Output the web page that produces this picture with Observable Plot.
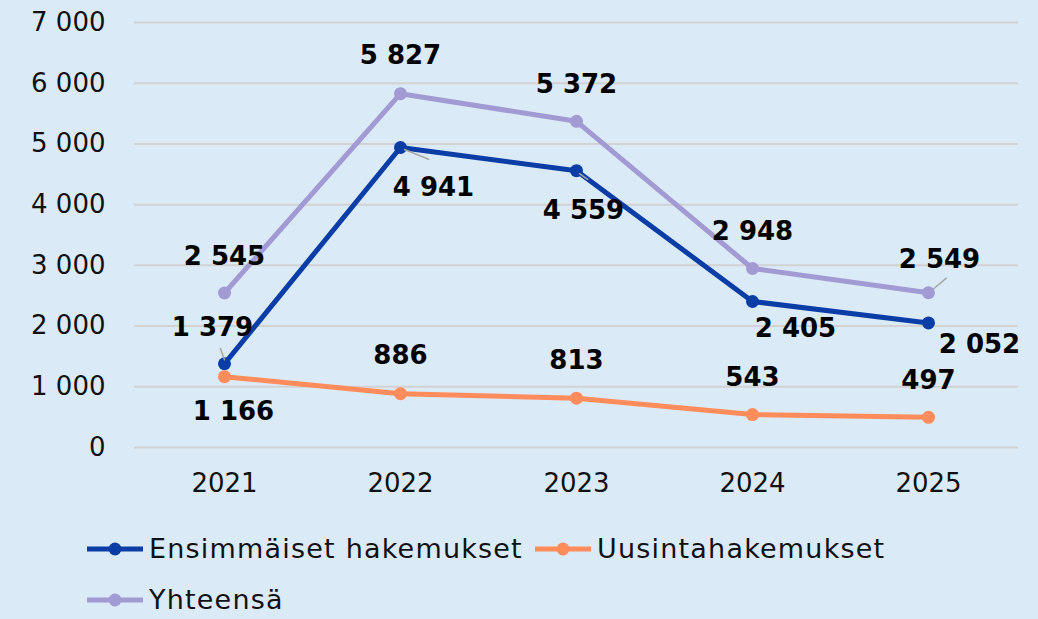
<!DOCTYPE html>
<html>
<head>
<meta charset="utf-8">
<script src="https://cdn.jsdelivr.net/npm/d3@7"></script>
<script src="https://cdn.jsdelivr.net/npm/@observablehq/plot@0.6"></script>
<style>
  html, body { margin: 0; padding: 0; background: #dbeaf7; }
  body { width: 1038px; height: 619px; overflow: hidden; font-family: "DejaVu Sans", sans-serif; }
  #chart svg { display: block; }
  .legend { position: relative; height: 109px; }
  .item { position: absolute; display: flex; align-items: center; font-size: 27px; letter-spacing: 1.2px; color: #111; white-space: nowrap; }
  .sw { width: 56px; height: 20px; margin-right: 6px; }
</style>
</head>
<body>
<div id="chart"></div>
<div class="legend" id="legend"></div>
<script>
const years = ["2021", "2022", "2023", "2024", "2025"];
const ensimmaiset = [1379, 4941, 4559, 2405, 2052];
const uusinta = [1166, 886, 813, 543, 497];
const yhteensa = [2545, 5827, 5372, 2948, 2549];
const seriesNames = ["Ensimmäiset hakemukset", "Uusintahakemukset", "Yhteensä"];
const seriesColors = ["#0b3da6", "#ff8c5a", "#a29ad3"];
const yTicks = [0, 1000, 2000, 3000, 4000, 5000, 6000, 7000];

const fmt = v => d3.format(",")(v).replace(/,/g, " ");
const seriesValues = [ensimmaiset, uusinta, yhteensa];
const data = [];
seriesNames.forEach((s, i) => years.forEach((y, j) => data.push({series: s, year: y, value: seriesValues[i][j], idx: j})));

// label offsets (pixels) per series, per year
const labelOffsets = {
  "Ensimmäiset hakemukset": [[-12, -36], [33, 40], [7, 40], [43, 27], [51, 22]],
  "Uusintahakemukset": [[9, 35], [0, -38], [0, -37], [0, -37], [0, -37]],
  "Yhteensä": [[0, -36], [0, -38], [0, -37], [0, -37], [11, -33]]
};

const labelMarks = [];
seriesNames.forEach(s => {
  labelOffsets[s].forEach(([dx, dy], j) => {
    labelMarks.push(Plot.text(data.filter(d => d.series === s && d.idx === j), {
      x: "year", y: "value", text: d => fmt(d.value), dx, dy,
      fontSize: 26, fontWeight: "bold", fill: "#000"
    }));
  });
});

const spike = {draw(ctx, l) { ctx.moveTo(0, 0); ctx.lineTo(0, -l); }};
const leader = (s, j, length, rotate, dx, dy) => Plot.vector(data.filter(d => d.series === s && d.idx === j), {
  x: "year", y: "value", length, rotate, dx, dy, anchor: "start", shape: spike, stroke: "#a6a6a6", strokeWidth: 1.5
});

const chart = Plot.plot({
  width: 1038,
  height: 510,
  marginTop: 22,
  marginBottom: 63,
  marginLeft: 134,
  marginRight: 20,
  style: {background: "#dbeaf7", fontFamily: "DejaVu Sans, sans-serif", fontSize: "26px", color: "#111"},
  x: {type: "point", domain: years, padding: 0.5, label: null},
  y: {domain: [0, 7000], label: null},
  color: {domain: seriesNames, range: seriesColors},
  marks: [
    Plot.ruleY(yTicks, {stroke: "#d2d2d2", strokeWidth: 2}),
    Plot.axisY({ticks: yTicks, tickSize: 0, tickPadding: 29, tickFormat: fmt, fontSize: 26, label: null}),
    Plot.axisX({tickSize: 0, tickPadding: 26, fontSize: 26, label: null}),
    Plot.line(data, {x: "year", y: "value", z: "series", stroke: "series", strokeWidth: 5}),
    Plot.dot(data, {x: "year", y: "value", fill: "series", r: 6.5}),
    leader("Ensimmäiset hakemukset", 0, 12, -20, 0, -4),
    leader("Ensimmäiset hakemukset", 1, 26, 112, 4, 2),
    leader("Ensimmäiset hakemukset", 2, 10, 125, 3, 3),
    leader("Yhteensä", 4, 18, 50, 4, -3),
    ...labelMarks
  ]
});
document.getElementById("chart").append(chart);

const legendPos = [[87, 41], [535, 41], [87, 92]];
const legend = document.getElementById("legend");
seriesNames.forEach((s, i) => {
  const item = document.createElement("div");
  item.className = "item";
  item.style.left = legendPos[i][0] + "px";
  item.style.top = (legendPos[i][1] - 18) + "px";
  item.innerHTML = `<svg class="sw" viewBox="0 0 56 20"><line x1="0" y1="10" x2="56" y2="10" stroke="${seriesColors[i]}" stroke-width="5"/><circle cx="28" cy="10" r="6.5" fill="${seriesColors[i]}"/></svg><span>${s}</span>`;
  legend.append(item);
});
</script>
</body>
</html>
